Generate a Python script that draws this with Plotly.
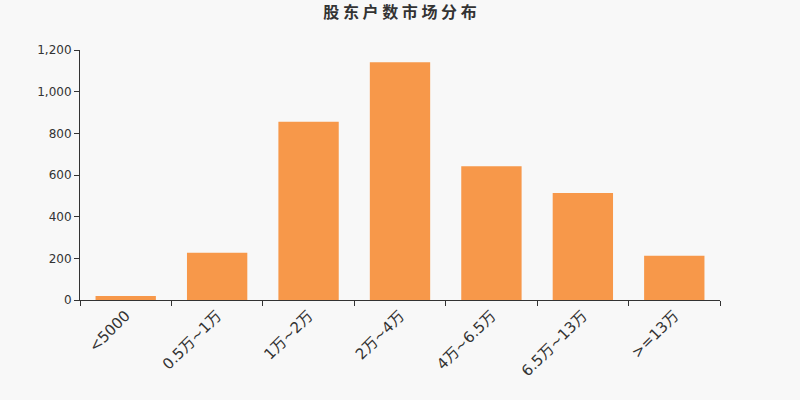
import plotly.graph_objects as go

categories = ["<5000", "0.5万~1万", "1万~2万", "2万~4万", "4万~6.5万", "6.5万~13万", ">=13万"]
holders = [19, 227, 856, 1141, 642, 514, 213]

fig = go.Figure(
    go.Bar(
        x=categories,
        y=holders,
        marker=dict(color="#f7984a", line=dict(width=0)),
        hoverinfo="skip",
    )
)

fig.update_layout(
    width=800,
    height=400,
    paper_bgcolor="#f8f8f8",
    plot_bgcolor="#f8f8f8",
    margin=dict(l=80, r=80, t=50, b=100),
    bargap=0.34,
    showlegend=False,
    font=dict(family="DejaVu Sans, Noto Sans CJK SC", color="#333333"),
    title=dict(
        # spaced out like the reference title
        text="<b>股 东 户 数 市 场 分 布</b>",
        x=0.5,
        xanchor="center",
        y=0.968,
        yanchor="middle",
        font=dict(family="Noto Sans CJK SC", size=16, color="#333333"),
    ),
)

fig.update_xaxes(
    showline=True,
    linecolor="#333333",
    linewidth=1,
    ticks="outside",
    tickson="boundaries",
    ticklen=5,
    tickcolor="#333333",
    tickangle=-45,
    tickfont=dict(size=15, color="#333333"),
    showgrid=False,
)
fig.update_yaxes(
    range=[0, 1200],
    dtick=200,
    tickformat=",",
    showline=True,
    linecolor="#333333",
    linewidth=1,
    ticks="outside",
    ticklen=5,
    tickcolor="#333333",
    tickfont=dict(size=12, color="#333333"),
    showgrid=False,
    zeroline=False,
)

# drop the default page margin so the chart sits at the window corner
fig.write_html(
    "out.html",
    config={"displayModeBar": False},
    post_script="document.body.style.margin='0';",
)
